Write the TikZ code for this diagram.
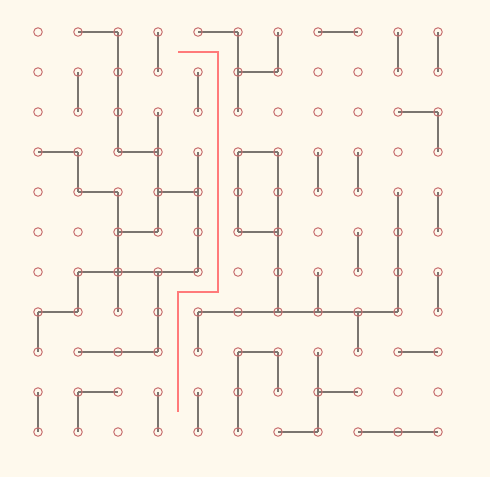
\documentclass[tikz,border=0pt]{standalone}
\definecolor{bg}{RGB}{254,249,237}
\definecolor{edgec}{RGB}{122,117,112}
\definecolor{dotc}{RGB}{200,112,112}
\definecolor{pathc}{RGB}{255,122,122}
\begin{document}
\begin{tikzpicture}[x=1pt,y=-1pt,
  dot/.style={circle,draw=dotc,line width=1pt,minimum size=8.5pt,inner sep=0pt},
  wall/.style={draw=edgec,line width=1.6pt},
  route/.style={draw=pathc,line width=1.5pt}]
\fill[bg] (0,0) rectangle (490,477);
\useasboundingbox (0,0) rectangle (490,477);
% grid points
\foreach \c in {0,...,10}{
  \foreach \r in {0,...,10}{
    \coordinate (p-\c-\r) at ({38+40*\c},{32+40*\r});
  }
}
% walls (horizontal)
\foreach \a/\b/\cc/\d in {1/0/2/0,4/0/5/0,7/0/8/0,5/1/6/1,9/2/10/2,0/3/1/3,2/3/3/3,5/3/6/3,1/4/2/4,3/4/4/4,2/5/3/5,5/5/6/5,1/6/4/6,0/7/1/7,4/7/9/7,1/8/3/8,5/8/6/8,9/8/10/8,1/9/2/9,7/9/8/9,6/10/7/10,8/10/10/10}{
  \draw[wall] (p-\a-\b) -- (p-\cc-\d);
}
% walls (vertical)
\foreach \a/\b/\cc/\d in {2/0/2/3,3/0/3/1,5/0/5/2,6/0/6/1,9/0/9/1,10/0/10/1,1/1/1/2,4/1/4/2,3/2/3/5,10/2/10/3,1/3/1/4,4/3/4/6,5/3/5/5,6/3/6/7,7/3/7/4,8/3/8/4,2/4/2/7,9/4/9/7,10/4/10/5,8/5/8/6,1/6/1/7,3/6/3/8,7/6/7/7,10/6/10/7,0/7/0/8,4/7/4/8,8/7/8/8,5/8/5/10,6/8/6/9,7/8/7/10,0/9/0/10,1/9/1/10,3/9/3/10,4/9/4/10}{
  \draw[wall] (p-\a-\b) -- (p-\cc-\d);
}
% dots
\foreach \c in {0,...,10}{
  \foreach \r in {0,...,10}{
    \node[dot] (n-\c-\r) at (p-\c-\r) {};
  }
}
% route
\coordinate (s) at (178,52);
\coordinate (t1) at (218,52);
\coordinate (t2) at (218,292);
\coordinate (t3) at (178,292);
\coordinate (e) at (178,412);
\draw[route] (s) -- (t1) -- (t2) -- (t3) -- (e);
\end{tikzpicture}
\end{document}
